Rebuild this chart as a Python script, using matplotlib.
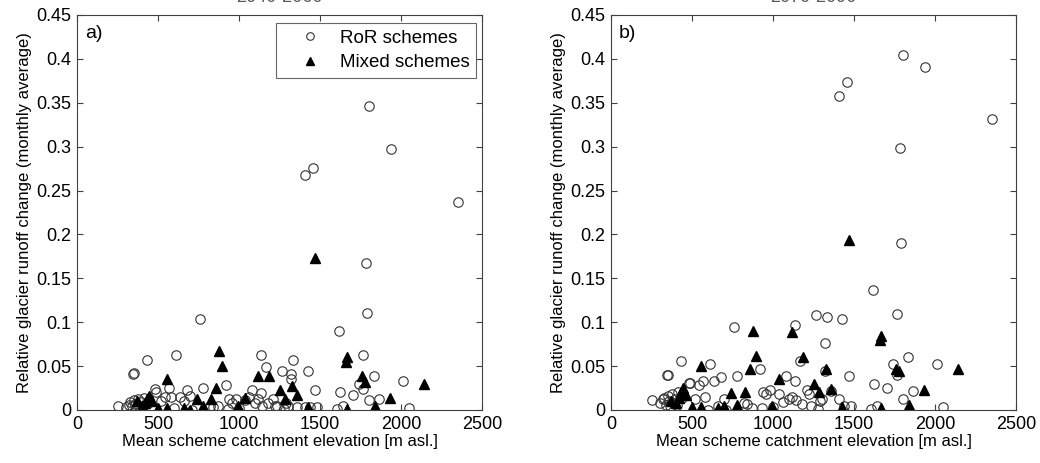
import matplotlib
matplotlib.use("Agg")
import matplotlib.pyplot as plt
import numpy as np

plt.rcParams['font.family'] = ['Liberation Sans', 'DejaVu Sans']

# RoR schemes: catchment elevation, change for period a) and b)
ror_elev = [1405, 1455, 1805, 1937, 2353, 1785, 1788, 1617, 759, 1768,
            1138, 1268, 1334, 1428, 1324, 430, 612, 348, 351, 1165,
            918, 1319, 1469, 1743, 1833, 2010, 1864, 1800, 1706, 1625,
            1645, 1607, 2048, 1764, 775, 677, 638, 568, 545, 480,
            490, 582, 1080, 1138, 983, 940, 955, 1038, 1100, 1120,
            1145, 1212, 1290, 1300, 1405, 1356, 1280, 1440, 1480, 1235,
            870, 930, 1000, 710, 600, 820, 840, 255, 300, 320,
            330, 340, 350, 360, 365, 375, 385, 395, 405, 415,
            440, 520, 700, 660, 1060, 1180, 1225]
ror_a = [0.268, 0.276, 0.346, 0.297, 0.237, 0.168, 0.111, 0.090, 0.104, 0.063,
         0.063, 0.044, 0.057, 0.044, 0.041, 0.057, 0.063, 0.041, 0.042, 0.049,
         0.028, 0.035, 0.023, 0.030, 0.039, 0.033, 0.013, 0.011, 0.017, 0.021,
         0.005, 0.001, 0.002, 0.024, 0.025, 0.023, 0.015, 0.025, 0.015, 0.024,
         0.021, 0.015, 0.023, 0.019, 0.013, 0.013, 0.0075, 0.011, 0.0075, 0.013,
         0.005, 0.0125, 0.008, 0.004, 0.003, 0.003, 0.001, 0.003, 0.003, 0.004,
         0.004, 0.001, 0.002, 0.0, 0.002, 0.005, 0.003, 0.005, 0.003, 0.006,
         0.009, 0.004, 0.011, 0.007, 0.002, 0.012, 0.005, 0.009, 0.003, 0.014,
         0.008, 0.010, 0.016, 0.010, 0.015, 0.008, 0.004]
ror_b = [0.358, 0.374, 0.404, 0.391, 0.332, 0.299, 0.190, 0.137, 0.094, 0.109,
         0.097, 0.108, 0.106, 0.104, 0.076, 0.056, 0.052, 0.0395, 0.040, 0.056,
         0.047, 0.044, 0.039, 0.052, 0.060, 0.052, 0.022, 0.0125, 0.025, 0.030,
         0.005, 0.001, 0.003, 0.040, 0.039, 0.038, 0.033, 0.033, 0.029, 0.031,
         0.031, 0.015, 0.039, 0.033, 0.023, 0.020, 0.018, 0.018, 0.013, 0.015,
         0.011, 0.023, 0.010, 0.012, 0.012, 0.022, 0.001, 0.004, 0.004, 0.004,
         0.002, 0.002, 0.003, 0.0, 0.0, 0.008, 0.007, 0.011, 0.008, 0.012,
         0.014, 0.006, 0.016, 0.010, 0.005, 0.018, 0.008, 0.013, 0.006, 0.020,
         0.014, 0.012, 0.012, 0.005, 0.009, 0.007, 0.018]

# Mixed schemes
mix_elev = [1471, 877, 893, 860, 553, 1120, 1183, 1253, 1329, 1356,
            1286, 1665, 1660, 1757, 1778, 2144, 1935, 1837, 1669, 1427,
            1040, 996, 825, 739, 776, 553, 498, 660, 700, 430,
            445, 460, 420, 370, 400]
mix_a = [0.173, 0.067, 0.050, 0.025, 0.035, 0.039, 0.039, 0.023, 0.027, 0.017,
         0.0125, 0.060, 0.055, 0.039, 0.032, 0.030, 0.014, 0.004, 0.001, 0.003,
         0.014, 0.004, 0.013, 0.013, 0.004, 0.002, 0.002, 0.002, 0.0, 0.012,
         0.016, 0.010, 0.008, 0.010, 0.005]
mix_b = [0.194, 0.090, 0.062, 0.047, 0.050, 0.0885, 0.060, 0.030, 0.047, 0.024,
         0.021, 0.084, 0.080, 0.047, 0.044, 0.047, 0.023, 0.006, 0.002, 0.003,
         0.035, 0.004, 0.020, 0.019, 0.006, 0.003, 0.003, 0.002, 0.005, 0.020,
         0.025, 0.017, 0.014, 0.010, 0.008]

panels = ['a)', 'b)']
periods = ['2040-2060', '2070-2090']
xticks = [0, 500, 1000, 1500, 2000, 2500]
yticks = [0, 0.05, 0.1, 0.15, 0.2, 0.25, 0.3, 0.35, 0.4, 0.45]
ytick_labels = ['0', '0.05', '0.1', '0.15', '0.2', '0.25', '0.3', '0.35', '0.4', '0.45']

fig = plt.figure(figsize=(10.4, 4.63), dpi=100)
lefts = [77 / 1040, 611 / 1040]
edge = '0.25'

for i, (ror_y, mix_y) in enumerate([(ror_a, mix_a), (ror_b, mix_b)]):
    ax = fig.add_axes([lefts[i], 53 / 463, 405 / 1040, 395 / 463])
    ax.plot(ror_elev, ror_y, 'o', ms=6.8, mfc='none', mec='0.2', mew=0.8,
            label='RoR schemes')
    ax.plot(mix_elev, mix_y, '^', ms=7.0, color='black', label='Mixed schemes')

    ax.set_xlim(0, 2500)
    ax.set_ylim(0, 0.45)
    ax.set_xticks(xticks)
    ax.set_yticks(yticks)
    ax.set_yticklabels(ytick_labels)
    ax.tick_params(direction='in', top=True, right=True, length=4,
                   labelsize=13, color=edge, pad=4)
    for s in ax.spines.values():
        s.set_color(edge)
        s.set_linewidth(0.8)
    ax.set_xlabel('Mean scheme catchment elevation [m asl.]', fontsize=12, labelpad=1)
    ax.set_ylabel('Relative glacier runoff change (monthly average)', fontsize=12,
                  labelpad=3)
    ax.text(0.02, 0.975, panels[i], transform=ax.transAxes, fontsize=14,
            va='top', ha='left')

    # period title, mostly cut off by the top edge (as in the original)
    fig.text(lefts[i] + 405 / 1040 / 2, 1 - 1.5 / 463, periods[i], ha='center',
             va='baseline', fontsize=13, color='0.35')

    if i == 0:
        leg = ax.legend(loc='upper right', bbox_to_anchor=(0.985, 0.98),
                        borderaxespad=0, fontsize=13.5, fancybox=False,
                        frameon=True, edgecolor=edge, handletextpad=0.15,
                        borderpad=0.35, labelspacing=0.4, handlelength=2.9,
                        markerscale=0.8)
        leg.get_frame().set_linewidth(0.8)

fig.savefig('out.png', dpi=100)
